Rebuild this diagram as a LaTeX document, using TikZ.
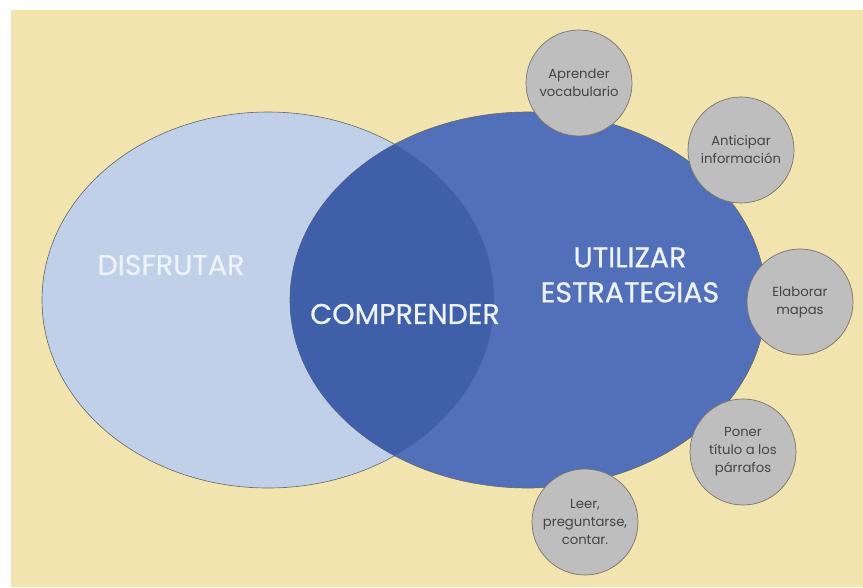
\documentclass[tikz,border=0pt]{standalone}
\usepackage{fontspec}
\setmainfont{Poppins}
\newfontfamily\gruesa[FakeBold=0.6]{Poppins}
\usetikzlibrary{positioning}
\definecolor{fondo}{HTML}{F1E4AE}
\definecolor{celeste}{HTML}{C0D0E8}
\definecolor{azul}{HTML}{5270BA}
\definecolor{lente}{HTML}{3F5FA8}
\definecolor{gris}{HTML}{BEBEBF}
\definecolor{borde}{HTML}{7C7468}
\definecolor{contorno}{HTML}{666666}
\definecolor{texto}{HTML}{454545}
\definecolor{blanco}{HTML}{EEF2FA}
\tikzstyle{zona}=[draw=contorno,line width=0.6pt]
\tikzstyle{titulo}=[text=blanco,align=center,font=\gruesa\fontsize{28.5}{35}\selectfont]
\tikzstyle{estrategia}=[circle,draw=borde,line width=0.7pt,fill=gris,minimum size=106pt,
                inner sep=0,align=center,text=texto,font=\fontsize{13.2}{18}\selectfont]

\begin{document}
\begin{tikzpicture}[x=1pt,y=-1pt]
\fill[white] (0,0) rectangle (863,587);
\fill[fondo] (11,10) rectangle (863,587);
\useasboundingbox (0,0) rectangle (863,587);
\fill[celeste,zona] (268,300) ellipse (226pt and 188pt);
\fill[azul,zona] (528,300) ellipse (238pt and 188pt);
\begin{scope}
\clip (268,300) ellipse (226pt and 188pt);
\fill[lente] (528,300) ellipse (238pt and 188pt);
\end{scope}
\node[titulo] (disfrutar) at (171,265) {DISFRUTAR};
\node[titulo] (comprender) at (405,314) {COMPRENDER};
\node[titulo] (utilizar) at (630,275) {UTILIZAR\\ESTRATEGIAS};
\node[estrategia] (vocabulario) at (579,83) {Aprender\\vocabulario};
\node[estrategia] (anticipar) at (741,150) {Anticipar\\información};
\node[estrategia] (mapas) at (800,302) {Elaborar\\mapas};
\node[estrategia] (titulos) at (743,452) {Poner\\título a los\\párrafos};
\node[estrategia] (leer) at (585,522) {Leer,\\preguntarse,\\contar.};
\end{tikzpicture}
\end{document}
